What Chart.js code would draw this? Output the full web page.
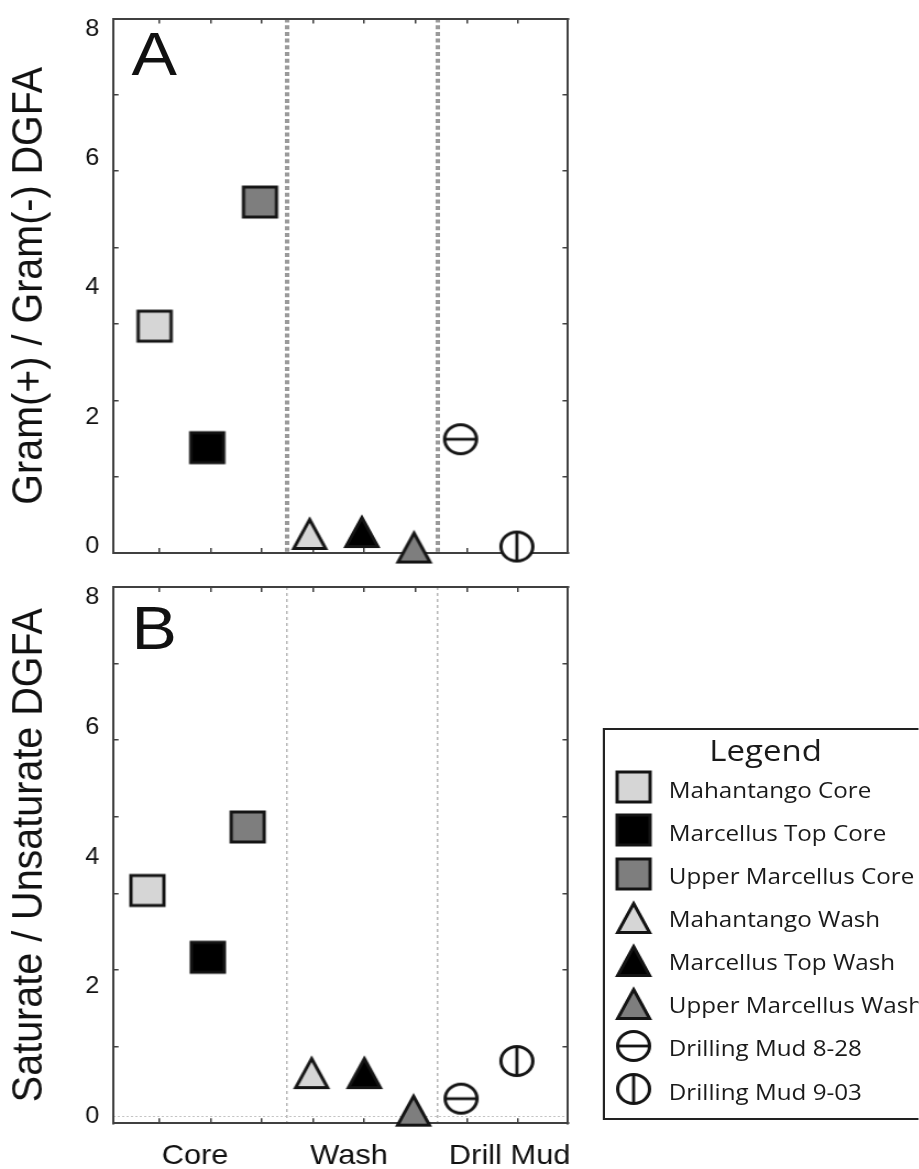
<!DOCTYPE html>
<html>
<head>
<meta charset="utf-8">
<script src="https://cdn.jsdelivr.net/npm/chart.js@4.4.1/dist/chart.umd.min.js"></script>
<style>
  html, body { margin: 0; padding: 0; background: #fff; overflow: hidden; }
  /* the whole figure is laid out narrow and widened by 10% */
  #stage { position: relative; width: 835.45px; height: 1169px; transform: scaleX(1.1); transform-origin: 0 0; overflow: hidden; }
  .panel { position: absolute; left: 0; width: 540px; }
  .letter { position: absolute; font-family: 'Liberation Sans', Arial, sans-serif; font-size: 62px; line-height: 62px; color: #111; }
  #legendBox { position: absolute; left: 548px; top: 728px; width: 330px; height: 392px; border: 2px solid #222; box-sizing: border-box; }
  .lg-title { position: absolute; font-family: 'Open Sans', sans-serif; font-size: 30px; line-height: 30px; color: #1a1a1a; white-space: nowrap; transform: translateX(-50%); }
  .lg-text { position: absolute; font-family: 'Open Sans', sans-serif; font-size: 22px; line-height: 22px; color: #1a1a1a; white-space: nowrap; }
  .lg-mark { position: absolute; }
</style>
</head>
<body>
<div id="stage">
  <div class="panel" style="top:0;height:570px"><canvas id="chartA"></canvas></div>
  <div class="panel" style="top:570px;height:599px"><canvas id="chartB"></canvas></div>
  <div class="letter" style="left:119.5px;top:22.5px">A</div>
  <div class="letter" style="left:119.5px;top:596.5px">B</div>
  <div id="legendBox"></div>
  <div class="lg-title" style="left:696px;top:734.8px">Legend</div>
</div>
<script>
// ---- data ----
const seriesNames = [
  'Mahantango Core', 'Marcellus Top Core', 'Upper Marcellus Core',
  'Mahantango Wash', 'Marcellus Top Wash', 'Upper Marcellus Wash',
  'Drilling Mud 8-28', 'Drilling Mud 9-03'
];
const groupLabels = ['Core', 'Wash', 'Drill Mud'];
const groupLabelAt = [1.69, 4.70, 7.84];
const dividerAt = [3.49, 6.44];
const yTickValues = [0, 2, 4, 6, 8];
const frameTicksX = [1, 2, 3, 4, 5, 6, 7, 8];
const frameTicksY = [1, 2, 3, 4, 5, 6];

// panel A: Gram(+) / Gram(-) DGFA
const slotA = [0.90, 1.93, 2.96, 3.93, 4.95, 5.97, 6.88, 7.98];
const gramRatio = [3.41, 1.53, 5.33, 0.21, 0.24, 0.00, 1.66, 0.00];
// panel B: Saturate / Unsaturate DGFA
const slotB = [0.76, 1.94, 2.72, 3.97, 5.00, 5.96, 6.89, 7.98];
const satRatio = [3.49, 2.46, 4.47, 0.69, 0.69, 0.11, 0.28, 0.86];

// ---- marker glyphs ----
const markerStyle = [
  { shape: 'square', fill: '#d6d6d6' }, { shape: 'square', fill: '#000000' }, { shape: 'square', fill: '#7e7e7e' },
  { shape: 'triangle', fill: '#d6d6d6' }, { shape: 'triangle', fill: '#000000' }, { shape: 'triangle', fill: '#7e7e7e' },
  { shape: 'circle', bar: 'h' }, { shape: 'circle', bar: 'v' }
];

function makeMarker(style) {
  const c = document.createElement('canvas');
  c.width = 40; c.height = 40;
  const g = c.getContext('2d');
  const cx = 20, cy = 20;
  g.lineWidth = 3;
  g.strokeStyle = '#141414';
  g.lineJoin = 'miter';
  if (style.shape === 'square') {
    const s = 30;
    g.fillStyle = style.fill;
    g.fillRect(cx - s / 2, cy - s / 2, s, s);
    g.strokeRect(cx - s / 2, cy - s / 2, s, s);
  } else if (style.shape === 'triangle') {
    const w = 29, h = 29;
    g.beginPath();
    g.moveTo(cx, cy - h / 2 + 1);
    g.lineTo(cx + w / 2, cy + h / 2 + 1);
    g.lineTo(cx - w / 2, cy + h / 2 + 1);
    g.closePath();
    g.fillStyle = style.fill;
    g.fill();
    g.stroke();
  } else {
    const r = 14.5;
    g.beginPath();
    g.arc(cx, cy, r, 0, Math.PI * 2);
    g.fillStyle = '#fff';
    g.fill();
    g.stroke();
    g.lineWidth = 2.8;
    g.beginPath();
    if (style.bar === 'h') { g.moveTo(cx - r, cy); g.lineTo(cx + r, cy); }
    else { g.moveTo(cx, cy - r); g.lineTo(cx, cy + r); }
    g.stroke();
  }
  return c;
}

// ---- chart construction ----
const FONT = "'Liberation Sans', Arial, sans-serif";
const FRAME = '#404040';
const X_MIN = 0.088, X_MAX = 8.98;
const Y_MIN = -0.1, Y_MAX = 8.17;

function fixSize(w, h) {
  return function (scale) {
    if (w !== undefined) scale.width = w;
    if (h !== undefined) scale.height = h;
    scale.paddingTop = 0; scale.paddingBottom = 0;
    scale.paddingLeft = 0; scale.paddingRight = 0;
  };
}
function setTicks(values) {
  return function (scale) { scale.ticks = values.map(v => ({ value: v })); };
}
function frameAxis(position, min, max, ticks, horizontal) {
  return {
    type: 'linear', position, min, max, weight: 0,
    afterBuildTicks: setTicks(ticks),
    afterFit: horizontal ? fixSize(undefined, 0) : fixSize(0, undefined),
    ticks: { display: false },
    grid: { drawOnChartArea: false, drawTicks: true, tickLength: -5, color: FRAME, lineWidth: 1.5 },
    border: { display: true, color: FRAME, width: 2 }
  };
}

function buildChart(id, cfg) {
  const scales = {
    x: frameAxis('bottom', X_MIN, X_MAX, frameTicksX, true),
    y: {
      type: 'linear', position: 'left', weight: 2, min: Y_MIN, max: Y_MAX,
      afterBuildTicks: setTicks(yTickValues),
      afterFit: fixSize(102.73, undefined),
      ticks: { padding: 12.4, color: '#111', font: { family: FONT, size: 23 } },
      grid: {
        display: cfg.zeroLine, drawOnChartArea: true, drawTicks: false, lineWidth: 1,
        color: ctx => (ctx.tick && ctx.tick.value === 0) ? '#c4c4c4' : 'rgba(0,0,0,0)'
      },
      border: { display: false, dash: [2, 2] },
      title: { display: true, text: cfg.yTitle, color: '#111', font: { family: FONT, size: 39.5 }, padding: { top: 3.5, bottom: 0 } }
    },
    xTop: frameAxis('top', X_MIN, X_MAX, frameTicksX, true),
    yMinor: frameAxis('left', 0, 7, frameTicksY, false),
    yRight: frameAxis('right', 0, 7, frameTicksY, false),
    xDiv: {
      type: 'linear', position: 'bottom', weight: 1, min: X_MIN, max: X_MAX,
      afterBuildTicks: setTicks(dividerAt),
      afterFit: fixSize(undefined, 0),
      ticks: { display: false },
      grid: { drawOnChartArea: true, drawTicks: false, color: cfg.dividerColor, lineWidth: cfg.dividerWidth },
      border: { display: false, dash: cfg.dividerDash }
    }
  };
  if (cfg.groupAxis) {
    scales.xLab = {
      type: 'linear', position: 'bottom', weight: 2, min: X_MIN, max: X_MAX,
      afterBuildTicks: setTicks(groupLabelAt),
      afterFit: fixSize(undefined, 45.7),
      ticks: {
        padding: 16, color: '#111', font: { family: FONT, size: 28 },
        autoSkip: false, maxRotation: 0, minRotation: 0,
        callback: (v, i) => groupLabels[i]
      },
      grid: { display: false, drawTicks: false },
      border: { display: false }
    };
  }
  return new Chart(document.getElementById(id), {
    type: 'scatter',
    data: {
      datasets: seriesNames.map((name, i) => ({
        label: name,
        xAxisID: 'x',
        yAxisID: 'y',
        data: [{ x: cfg.slots[i], y: cfg.values[i] }],
        pointStyle: makeMarker(markerStyle[i]),
        pointRadius: 16,
        clip: false
      }))
    },
    options: {
      responsive: true,
      maintainAspectRatio: false,
      animation: false,
      events: [],
      layout: { padding: cfg.padding },
      plugins: { legend: { display: false }, tooltip: { enabled: false } },
      scales
    }
  });
}

buildChart('chartA', {
  slots: slotA, values: gramRatio,
  yTitle: 'Gram(+) / Gram(-) DGFA',
  padding: { top: 18.5, right: 23.64, bottom: 14, left: 0 },
  dividerColor: '#9a9a9a', dividerWidth: 4, dividerDash: [4, 2.7],
  zeroLine: false, groupAxis: false
});

buildChart('chartB', {
  slots: slotB, values: satRatio,
  yTitle: 'Saturate / Unsaturate DGFA',
  padding: { top: 14.3, right: 23.64, bottom: 0, left: 0 },
  dividerColor: '#b8b8b8', dividerWidth: 1.5, dividerDash: [3, 3],
  zeroLine: true, groupAxis: true
});

// ---- legend ----
const stage = document.getElementById('stage');
seriesNames.forEach((name, i) => {
  const baseline = 797.3 + 43.1 * i;
  const cy = baseline - 10;
  const m = makeMarker(markerStyle[i]);
  m.className = 'lg-mark';
  m.style.left = (576 - m.width / 2) + 'px';
  m.style.top = (cy - m.height / 2) + 'px';
  stage.appendChild(m);
  const t = document.createElement('div');
  t.className = 'lg-text';
  t.textContent = name;
  t.style.left = '608px';
  t.style.top = (baseline - 19.5) + 'px';
  stage.appendChild(t);
});
</script>
</body>
</html>
